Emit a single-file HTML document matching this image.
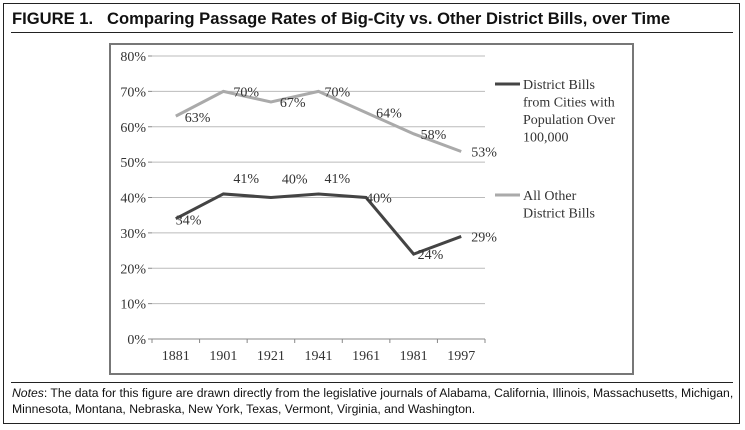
<!DOCTYPE html>
<html><head><meta charset="utf-8"><style>
body{margin:0;background:#fff;width:745px;height:430px;overflow:hidden;font-family:"Liberation Sans",sans-serif}
#frame{position:absolute;left:3px;top:3px;width:737px;height:421px;border:1.5px solid #222;box-sizing:border-box}
#title{position:absolute;left:12px;top:9px;font-weight:bold;font-size:16.6px;color:#111;white-space:nowrap}
#rule1{position:absolute;left:11px;top:32px;width:722px;border-top:1.5px solid #222}
#rule2{position:absolute;left:11px;top:382px;width:722px;border-top:1.5px solid #222}
#notes{position:absolute;left:12px;top:385px;font-size:12.2px;line-height:16px;color:#111;white-space:nowrap}
svg{position:absolute;left:0;top:0}
</style></head><body>
<div id="frame"></div>
<div id="title">FIGURE 1.&nbsp;&nbsp;&nbsp;Comparing Passage Rates of Big-City vs. Other District Bills, over Time</div>
<div id="rule1"></div>
<svg id="chart" width="745" height="430"></svg>
<div id="rule2"></div>
<div id="notes"><i>Notes</i>: The data for this figure are drawn directly from the legislative journals of Alabama, California, Illinois, Massachusetts, Michigan,<br>Minnesota, Montana, Nebraska, New York, Texas, Vermont, Virginia, and Washington.</div>
<script>
const categories=["1881","1901","1921","1941","1961","1981","1997"];
const bigCity=[34,41,40,41,40,24,29];
const otherBills=[63,70,67,70,64,58,53];
const yTicks=[0,10,20,30,40,50,60,70,80];
const svg=document.getElementById('chart');
const NS='http://www.w3.org/2000/svg';
const L=152,R=485,T=56,B=339;
const x=i=>L+(R-L)/categories.length*(i+0.5);
const y=v=>B-(B-T)*v/80;
const bigOff=[[0,1],[10,-16],[11,-19],[6,-16],[0,0],[4,0],[10,0]];
const othOff=[[9,1],[10,0],[9,0],[6,0],[10,0],[7,0],[10,0]];
function mk(t,a,p){const e=document.createElementNS(NS,t);for(const k in a)e.setAttribute(k,a[k]);(p||svg).appendChild(e);return e;}
const serif='"Liberation Serif",serif';
let box=mk('rect',{x:110,y:44,width:523,height:330,fill:'none',stroke:'#777','stroke-width':2});


yTicks.forEach(v=>{
  const g=mk('line',{x1:L,x2:R,y1:y(v),y2:y(v),stroke:v==0?'#888':'#bbb','stroke-width':1});
  
  
  const tk=mk('line',{x1:L-4,x2:L,y1:y(v),y2:y(v),stroke:'#888'});
  
  
  const t=mk('text',{x:L-6,y:y(v)+5,'text-anchor':'end','font-family':serif,'font-size':14,fill:'#333'});
  t.textContent=v+'%';
  
  
});
for(let i=0;i<=categories.length;i++){
  const tk=mk('line',{x1:L+(R-L)/categories.length*i,x2:L+(R-L)/categories.length*i,y1:B,y2:B+4,stroke:'#888'});
  
  
}
categories.forEach((c,i)=>{
  const t=mk('text',{x:x(i),y:B+21,'text-anchor':'middle','font-family':serif,'font-size':14,fill:'#333'});
  t.textContent=c;
  
  
});
function series(vals,color,name,off){
  const p=mk('polyline',{points:vals.map((v,i)=>x(i)+','+y(v)).join(' '),fill:'none',stroke:color,'stroke-width':3});
  
  
  vals.forEach((v,i)=>{
    const t=mk('text',{x:x(i)+off[i][0],y:y(v)+off[i][1]+5,'font-family':serif,'font-size':14,fill:'#333'});
    t.textContent=v+'%';
    
    
  });
}
series(otherBills,'#aaa','other-bills',othOff);
series(bigCity,'#444','big-city',bigOff);
function legend(yy,color,lines,name){
  const l=mk('line',{x1:495,x2:520,y1:yy,y2:yy,stroke:color,'stroke-width':3});
  
  
  lines.forEach((s,k)=>{
    const t=mk('text',{x:523,y:yy+5+k*17.5,'font-family':serif,'font-size':14,fill:'#333'});
    t.textContent=s;
    
    
  });
}
legend(84,'#444',['District Bills','from Cities with','Population Over','100,000'],'big-city');
legend(195,'#aaa',['All Other','District Bills'],'other-bills');
</script>
</body></html>
